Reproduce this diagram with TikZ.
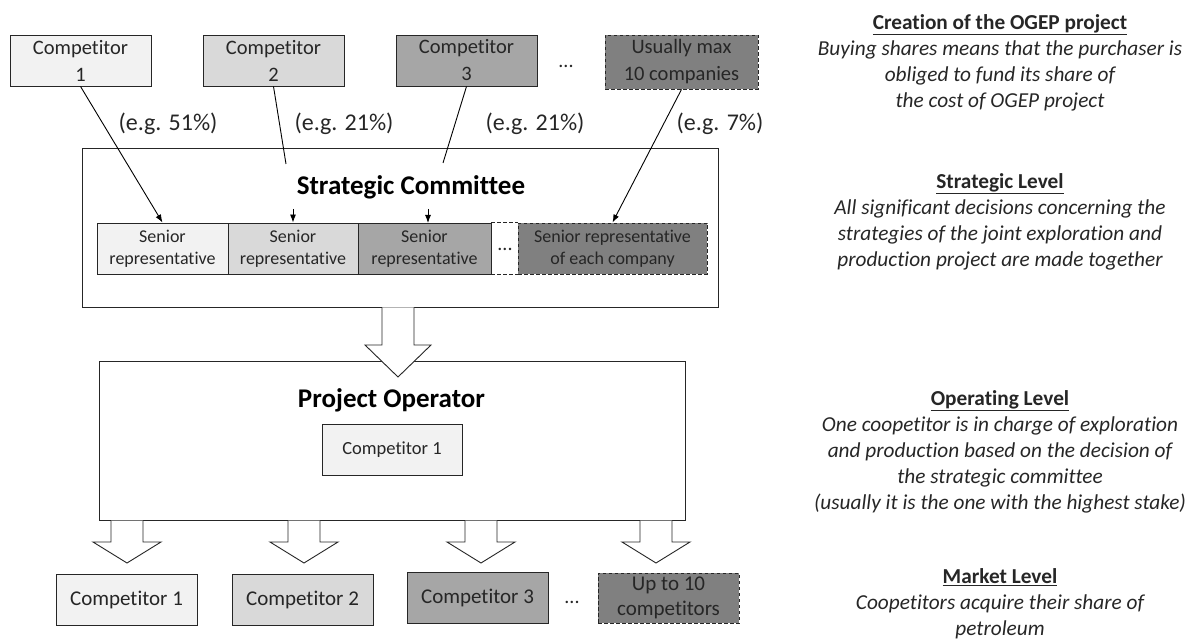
\documentclass[tikz,border=0pt]{standalone}
\usepackage{fontspec}
\setmainfont{Carlito}[Ligatures={NoCommon}]
\usetikzlibrary{arrows.meta,calc}
\definecolor{gA}{HTML}{F2F2F2}
\definecolor{gB}{HTML}{D9D9D9}
\definecolor{gC}{HTML}{A6A6A6}
\definecolor{gD}{HTML}{808080}
\definecolor{ink}{HTML}{262626}
\begin{document}
\begin{tikzpicture}[x=1pt,y=-1pt,
  box/.style={draw=black!85, line width=0.9pt, inner sep=0pt, align=center, text=ink},
  dbox/.style={box, dash pattern=on 3.5pt off 2.5pt},
  topfont/.style={font=\fontsize{20.5}{27}\selectfont},
  srfont/.style={font=\fontsize{18}{22}\selectfont},
  botfont/.style={font=\fontsize{21}{25}\selectfont},
  pct/.style={font=\fontsize{24}{28}\selectfont, text=ink, inner sep=0pt},
  bigtitle/.style={font=\bfseries\fontsize{27}{30}\selectfont, inner sep=0pt},
  frame/.style={draw=black!85, line width=0.9pt, inner sep=0pt},
  arr/.style={draw=black, line width=0.9pt, -{Latex[length=8pt,width=6pt]}},
  ln/.style={draw=black, line width=0.9pt},
  harrow/.style={draw=black!85, line width=0.9pt, fill=white},
  rtext/.style={font=\fontsize{21.3}{26}\selectfont, align=center, text=ink, inner sep=0pt, anchor=north},
  dots/.style={font=\fontsize{20}{24}\selectfont, text=ink, inner sep=0pt, anchor=base}
]
\useasboundingbox (0,0) rectangle (1195,639);

% ---- top competitors
\node[box, topfont, fill=gA, minimum width=141pt, minimum height=51pt] (c1) at (80.5,60.5) {Competitor\\1};
\node[box, topfont, fill=gB, minimum width=141pt, minimum height=51pt] (c2) at (273.5,60.5) {Competitor\\2};
\node[box, topfont, fill=gC, minimum width=141pt, minimum height=51pt] (c3) at (466.5,60.5) {Competitor\\3};
\node[dots] (dt) at (566,68) {...};
\node[dbox, topfont, fill=gD, minimum width=153pt, minimum height=54pt] (c4) at (681.5,62) {Usually max\\10 companies};

% ---- percentages
\node[pct] (p1) at (168,124) {(e.g. 51\%)};
\node[pct] (p2) at (344,124) {(e.g. 21\%)};
\node[pct] (p3) at (535,124) {(e.g. 21\%)};
\node[pct] (p4) at (720,124) {(e.g. 7\%)};

% ---- strategic committee
\node[frame, minimum width=636pt, minimum height=159pt] (sc) at (400,227.5) {};
\node[bigtitle, anchor=base] (sct) at (411,195) {Strategic Committee};
\node[box, srfont, fill=gA, minimum width=131pt, minimum height=51pt] (s1) at (162.5,248.5) {Senior\\representative};
\node[box, srfont, fill=gB, minimum width=130pt, minimum height=51pt] (s2) at (293,248.5) {Senior\\representative};
\node[box, srfont, fill=gC, minimum width=133pt, minimum height=51pt] (s3) at (424.5,248.5) {Senior\\representative};
\node[dbox, srfont, fill=gD, minimum width=189pt, minimum height=51pt] (s4) at (612.5,248.5) {Senior representative\\of each company};
\draw[black!85, line width=0.9pt, dash pattern=on 3.5pt off 2.5pt] (s3.north east) -- (s4.north west);
\draw[black!85, line width=0.9pt, dash pattern=on 3.5pt off 2.5pt] (s3.south east) -- (s4.south west);
\node[dots] (ds) at (505,251) {...};

% ---- connectors from competitors
\coordinate (l2) at (286,164);
\coordinate (l3) at (443,163);
\coordinate (a2) at (293,209);
\coordinate (a3) at (428,209);
\coordinate (e3) at (428,223);
\draw[arr] (c1.south) -- (s1.north);
\draw[ln] (c2.south) -- (l2);
\draw[arr] (a2) -- (s2.north);
\draw[ln] (c3.south) -- (l3);
\draw[arr] (a3) -- (e3);
\draw[arr] (c4.south) -- (s4.north);

% ---- project operator
\node[frame, minimum width=586pt, minimum height=159pt] (op) at (392,440.5) {};
\node[bigtitle, anchor=base] (opt) at (391.5,407) {Project Operator};
\node[box, font=\fontsize{18.5}{22}\selectfont, fill=gA, minimum width=140pt, minimum height=51pt] (oc) at (392,449.5) {Competitor 1};

% big hollow arrow committee -> operator
\filldraw[harrow] (382,307.5) -- (382,345) -- (365,345) -- (398,377) -- (431,345) -- (414,345) -- (414,307.5);

% ---- bottom competitors
\node[box, botfont, fill=gA, minimum width=141pt, minimum height=51pt] (b1) at (126.5,599.5) {Competitor 1};
\node[box, botfont, fill=gB, minimum width=141pt, minimum height=51pt] (b2) at (302.5,599.5) {Competitor 2};
\node[box, botfont, fill=gC, minimum width=141pt, minimum height=51pt] (b3) at (477.5,597.5) {Competitor 3};
\node[dots] (db) at (572,603) {...};
\node[dbox, botfont, fill=gD, minimum width=141pt, minimum height=50pt] (b4) at (668.5,598) {Up to 10\\competitors};

\foreach \cx in {127,304,481,656}{
  \filldraw[harrow] (\cx-16,520.5) -- (\cx-16,542) -- (\cx-34,542) -- (\cx,563) -- (\cx+34,542) -- (\cx+16,542) -- (\cx+16,520.5);
}

% ---- right-hand descriptions
\node[rtext] (r1) at (1000,14) {\textbf{\underline{Creation of the OGEP project}}\\\itshape Buying shares means that the purchaser is\\\itshape obliged to fund its share of\\\itshape the cost of OGEP project};
\node[rtext] (r2) at (1000,173) {\textbf{\underline{Strategic Level}}\\\itshape All significant decisions concerning the\\\itshape strategies of the joint exploration and\\\itshape production project are made together};
\node[rtext] (r3) at (1000,390) {\textbf{\underline{Operating Level}}\\\itshape One coopetitor is in charge of exploration\\\itshape and production based on the decision of\\\itshape the strategic committee\\\itshape (usually it is the one with the highest stake)};
\node[rtext] (r4) at (1000,568) {\textbf{\underline{Market Level}}\\\itshape Coopetitors acquire their share of\\\itshape petroleum};
\end{tikzpicture}
\end{document}
